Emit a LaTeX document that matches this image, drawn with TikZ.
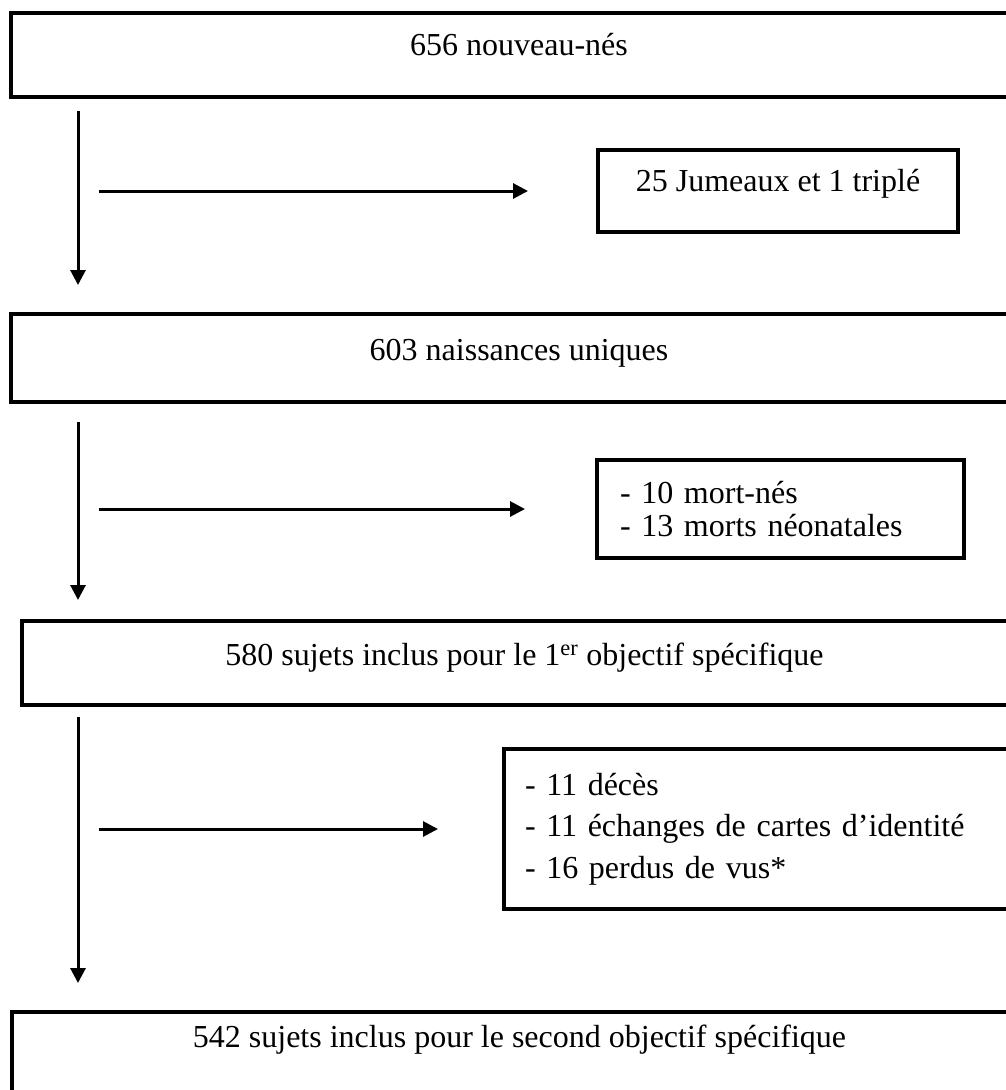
\documentclass[tikz,border=0pt]{standalone}
\usepackage{fontspec}
\setmainfont{Liberation Serif}
\usetikzlibrary{arrows.meta,calc}
\newcommand{\flowFont}[1]{\fontsize{32}{#1}\selectfont}

\begin{document}
\begin{tikzpicture}[x=1pt, y=-1pt, font=\flowFont{38}]
  \tikzset{
    main box/.style={draw, line width=4pt, anchor=north west, inner sep=0pt, minimum width=1016pt},
    side box/.style={draw, line width=4pt, anchor=north west, align=left, inner ysep=0pt},
    flow arrow/.style={-{Triangle[length=15pt,width=15pt]}, line width=3pt}
  }
  \useasboundingbox (0,0) rectangle (1005,1090);
  \node[main box, text height=42pt, text depth=42pt] (N-1) at (9,11) {656 nouveau-nés};
  \node[side box, align=center, inner xsep=0pt, minimum width=360pt, text height=41pt, text depth=41pt] (S-1) at (596,148) {25 Jumeaux et 1 triplé};
  \node[main box, text height=46pt, text depth=42pt] (N-2) at (9,312) {603 naissances uniques};
  \node[side box, font=\flowFont{33}, text width=321pt, inner xsep=23pt, minimum height=98pt] (S-2) at (595,458)
    {- 10 mort-nés\\- 13 morts néonatales};
  \node[main box, minimum width=1005pt, text height=44pt, text depth=40pt] (N-3) at (20,619) {580 sujets inclus pour le 1\textsuperscript{er} objectif spécifique};
  \node[side box, font=\flowFont{41.5}, text width=486pt, inner xsep=21pt, minimum height=160pt] (S-3) at (502,747)
    {- 11 décès\\- 11 échanges de cartes d’identité\\- 16 perdus de vus*};
  \node[main box, minimum width=1015pt, text height=35pt, text depth=60pt] (N-4) at (10,1010) {542 sujets inclus pour le second objectif spécifique};
  % vertical arrows
  \coordinate (V-1-1) at ($(N-1.south west)+(69,12)$);
  \coordinate (V-1-2) at ($(N-2.north west)+(69,-27)$);
  \coordinate (V-2-1) at ($(N-2.south west)+(69,18)$);
  \coordinate (V-2-2) at ($(N-3.north west)+(58,-19)$);
  \coordinate (V-3-1) at ($(N-3.south west)+(58,10)$);
  \coordinate (V-3-2) at ($(N-4.north west)+(68,-27)$);
  \draw[flow arrow] (V-1-1) -- (V-1-2);
  \draw[flow arrow] (V-2-1) -- (V-2-2);
  \draw[flow arrow] (V-3-1) -- (V-3-2);
  % side arrows
  \coordinate (H-1-1) at ($(S-1.west)+(-497,0)$);
  \coordinate (H-1-2) at ($(S-1.west)+(-68,0)$);
  \coordinate (H-2-1) at ($(S-2.west)+(-496,0)$);
  \coordinate (H-2-2) at ($(S-2.west)+(-70,0)$);
  \coordinate (H-3-1) at ($(S-3.west)+(-403,0)$);
  \coordinate (H-3-2) at ($(S-3.west)+(-64,0)$);
  \draw[flow arrow] (H-1-1) -- (H-1-2);
  \draw[flow arrow] (H-2-1) -- (H-2-2);
  \draw[flow arrow] (H-3-1) -- (H-3-2);
\end{tikzpicture}
\end{document}
